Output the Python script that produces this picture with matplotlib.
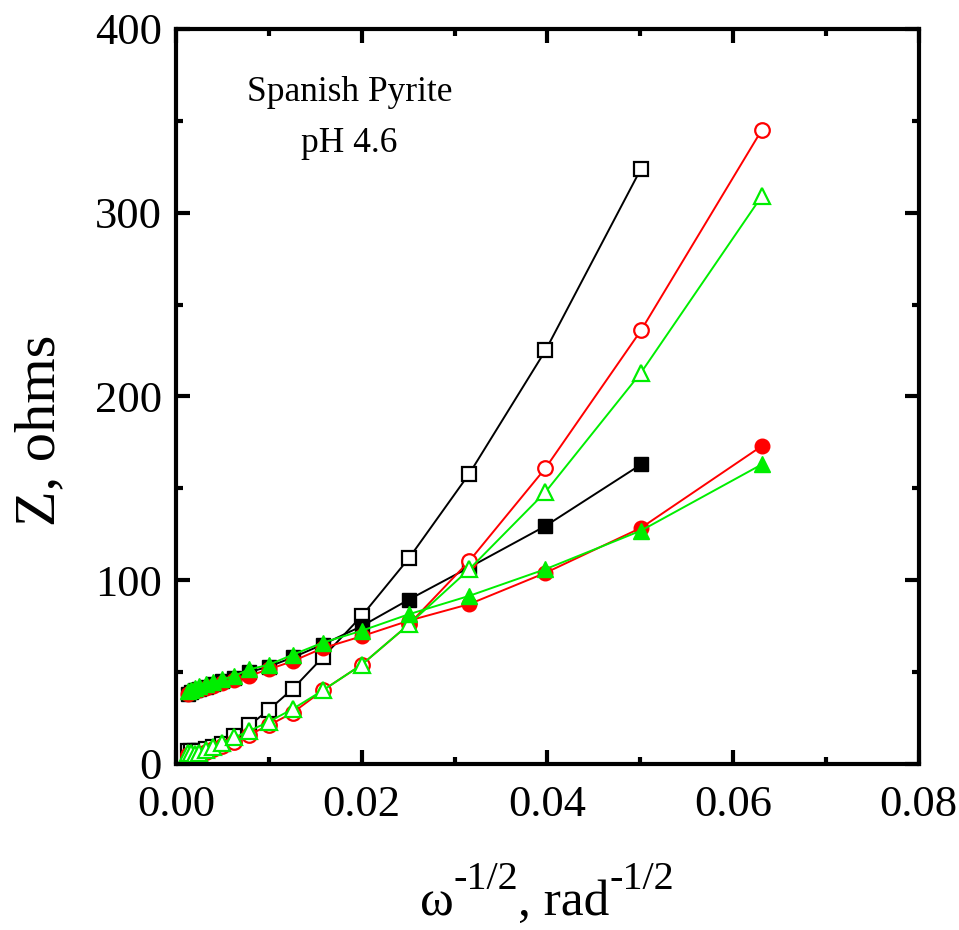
import matplotlib
matplotlib.use("Agg")
import matplotlib.pyplot as plt
from matplotlib.ticker import MultipleLocator

# 字体: Times 风格
plt.rcParams['font.family'] = ['Liberation Serif', 'DejaVu Serif']

# 数据 (omega^-1/2, rad^-1/2)
x_long = [0.0013, 0.0016, 0.0020, 0.0025, 0.0032, 0.0040, 0.0050, 0.0063, 0.0079,
          0.0100, 0.0126, 0.0158, 0.0200, 0.0251, 0.0316, 0.0398, 0.0501, 0.0631]
x_short = x_long[:-1]

# 黑色: 方块
black_open = [7, 7, 7, 7, 8, 9, 11, 15, 21, 29.5, 41, 58, 80.5, 112, 158, 225, 324]
black_fill = [38, 39, 40, 41, 42, 43.5, 45, 47, 50, 53, 58, 65, 75, 89.5, 107, 129.5, 163]

# 红色: 圆
red_open = [5, 5, 5, 5.5, 6.5, 8, 10, 12, 16, 21, 28, 40, 54, 76, 110.5, 161, 236, 345]
red_fill = [38, 39, 40, 40.5, 41.5, 42.5, 44, 45.5, 48, 51.5, 56, 63, 69.5, 78, 87, 104, 128.5, 173]

# 绿色: 三角
green_open = [6, 6, 5.5, 6, 7.5, 9, 11.5, 14.5, 18, 23, 30, 40, 54, 76, 106, 148, 213, 309]
green_fill = [39.5, 40.5, 41.5, 42.5, 43.5, 44.5, 46, 48, 51.5, 54, 59.5, 66, 72.5, 81.5,
              91.5, 106, 127, 163]

W, H = 959, 930
fig = plt.figure(figsize=(W / 100, H / 100), dpi=100)
ax = fig.add_axes([0.1835, 0.1785, 0.7745, 0.7905])

lw = 1.4
ax.plot(x_short, black_open, color='black', lw=lw, marker='s', ms=10,
        mfc='white', mec='black', mew=1.6)
ax.plot(x_short, black_fill, color='black', lw=lw, marker='s', ms=10,
        mfc='black', mec='black')
ax.plot(x_long, red_open, color='#ff0000', lw=lw, marker='o', ms=10.5,
        mfc='white', mec='#ff0000', mew=1.6)
ax.plot(x_long, red_fill, color='#ff0000', lw=lw, marker='o', ms=10.5,
        mfc='#ff0000', mec='#ff0000')
ax.plot(x_long, green_open, color='#00ee00', lw=lw, marker='^', ms=12,
        mfc='white', mec='#00ee00', mew=1.6)
ax.plot(x_long, green_fill, color='#00ee00', lw=lw, marker='^', ms=12,
        mfc='#00ee00', mec='#00ee00')

ax.set_xlim(0, 0.08)
ax.set_ylim(0, 400)
ax.xaxis.set_major_locator(MultipleLocator(0.02))
ax.xaxis.set_minor_locator(MultipleLocator(0.01))
ax.yaxis.set_major_locator(MultipleLocator(100))
ax.yaxis.set_minor_locator(MultipleLocator(50))
ax.xaxis.set_major_formatter(plt.FuncFormatter(lambda v, p: f"{v:.2f}"))

for s in ax.spines.values():
    s.set_linewidth(3)
ax.tick_params(which='both', direction='in', top=True, right=True, width=3)
ax.tick_params(which='major', length=10, labelsize=32)
ax.tick_params(which='minor', length=5)
ax.tick_params(axis='x', pad=15)
ax.tick_params(axis='y', pad=10)

# y 轴标题
ax.set_ylabel('Z, ohms', fontsize=42, va='baseline')
ax.yaxis.set_label_coords(-0.164, 0.454)

# x 轴标题: 手动拼接上标, 上标字号较大
fig.canvas.draw()
renderer = fig.canvas.get_renderer()
pieces = [('ω', 37, 0), ('-1/2', 29, 26), (', rad', 37, 0), ('-1/2', 29, 26)]
base_y = H - 915
texts = []
x = 0
for s, size, dy in pieces:
    t = fig.text(x / W, (base_y + dy) / H, s, fontsize=size, va='baseline')
    texts.append(t)
    x = t.get_window_extent(renderer).x1
shift = 547 - x / 2
for t in texts:
    px, py = t.get_position()
    t.set_position((px + shift / W, py))

ax.text(0.0187, 361, 'Spanish Pyrite', fontsize=25.5, ha='center', va='baseline')
ax.text(0.0187, 333, 'pH 4.6', fontsize=25.5, ha='center', va='baseline')

fig.savefig('out.png', dpi=100)
